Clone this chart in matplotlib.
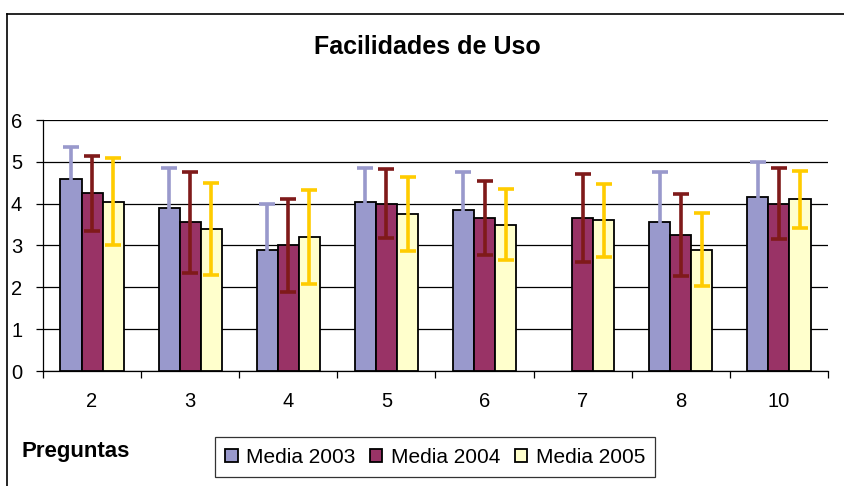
import numpy as np
import matplotlib
matplotlib.use('Agg')
import matplotlib.pyplot as plt
from matplotlib.lines import Line2D

plt.rcParams['font.family'] = ['Liberation Sans', 'DejaVu Sans']

preguntas = ['2', '3', '4', '5', '6', '7', '8', '10']
series = ['Media 2003', 'Media 2004', 'Media 2005']
media_2003 = [4.6, 3.9, 2.9, 4.05, 3.85, np.nan, 3.55, 4.15]
err_2003 = [0.75, 0.95, 1.1, 0.8, 0.9, np.nan, 1.2, 0.85]
media_2004 = [4.25, 3.55, 3.0, 4.0, 3.65, 3.65, 3.25, 4.0]
err_2004 = [0.9, 1.2, 1.1, 0.82, 0.88, 1.05, 0.98, 0.85]
media_2005 = [4.05, 3.4, 3.2, 3.75, 3.5, 3.6, 2.9, 4.1]
err_2005 = [1.03, 1.1, 1.13, 0.88, 0.85, 0.88, 0.87, 0.68]

bar_colors = ['#9999CC', '#993366', '#FFFFCC']
err_colors = ['#9999CC', '#7F1A1A', '#FFCC00']

fig = plt.figure(figsize=(8.45, 4.86), dpi=100)
ax = fig.add_axes([43/845, 1 - 371/486, 785/845, 251/486])

x = np.arange(len(preguntas))
w = 0.215
medias = [media_2003, media_2004, media_2005]
errs = [err_2003, err_2004, err_2005]

for i in range(3):
    ax.bar(x + (i - 1) * w, medias[i], w, color=bar_colors[i],
           edgecolor='black', linewidth=1.3, zorder=3, label=series[i])
for i in range(3):
    ax.errorbar(x + (i - 1) * w, medias[i], yerr=errs[i], fmt='none',
                ecolor=err_colors[i], elinewidth=2.6, capsize=6,
                capthick=2.6, zorder=4)

ax.set_xlim(-0.5, len(preguntas) - 0.5)
ax.set_ylim(0, 6)
ax.set_yticks(range(7))
ax.grid(axis='y', color='black', linewidth=0.9, zorder=0)
ax.set_axisbelow(True)
for s in ['top', 'right']:
    ax.spines[s].set_visible(False)
ax.spines['left'].set_linewidth(0.9)
ax.spines['bottom'].set_linewidth(0.9)

ax.set_xticks(x)
ax.set_xticklabels(preguntas, fontsize=14.5)
ax.set_xticks(np.arange(-0.5, len(preguntas)), minor=True)
ax.tick_params(axis='x', which='major', length=0, pad=15)
ax.tick_params(axis='x', which='minor', length=5, width=0.9)
ax.tick_params(axis='y', length=5, width=0.9, labelsize=14.5, pad=10)

fig.text(427/845, 1 - 47/486, 'Facilidades de Uso', ha='center', va='center',
         fontsize=18, fontweight='bold')
fig.text(22/845, 1 - 451/486, 'Preguntas', ha='left', va='center',
         fontsize=16, fontweight='bold')

# outer chart border
fig.add_artist(Line2D([7/845, 1], [1 - 14/486, 1 - 14/486], color='black',
                      linewidth=1.2, transform=fig.transFigure))
fig.add_artist(Line2D([7/845, 7/845], [0, 1 - 14/486], color='black',
                      linewidth=1.2, transform=fig.transFigure))

leg = ax.legend(loc='center', bbox_to_anchor=(435/845, 1 - 457/486),
                bbox_transform=fig.transFigure, ncol=3, fontsize=15,
                frameon=True, fancybox=False, edgecolor='black',
                handlelength=0.6, handleheight=0.6, handletextpad=0.4,
                columnspacing=0.7, borderpad=0.5)
leg.get_frame().set_linewidth(0.9)

fig.savefig('out.png', dpi=100)
